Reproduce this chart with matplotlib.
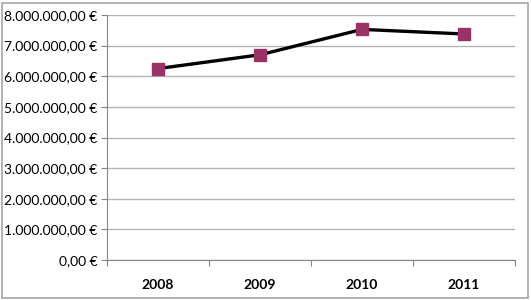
import matplotlib.pyplot as plt
from matplotlib.patches import Rectangle
from matplotlib.ticker import FuncFormatter, MultipleLocator

years = ['2008', '2009', '2010', '2011']
values = [6250000, 6700000, 7530000, 7380000]

plt.rcParams['font.family'] = ['Lato', 'DejaVu Sans']

fig = plt.figure(figsize=(5.31, 3.0), dpi=100)
ax = fig.add_axes([107 / 531, 40 / 300, 408 / 531, 245 / 300])

x = range(len(years))
ax.plot(x, values, color='black', lw=2.4, marker='s', ms=8,
        mfc='#993366', mec='#993366', zorder=3)

ax.set_xlim(-0.5, len(years) - 0.5)
ax.set_ylim(0, 8000000)
ax.yaxis.set_major_locator(MultipleLocator(1000000))


def euro(v, pos):
    s = f'{v:,.2f}'.replace(',', 'X').replace('.', ',').replace('X', '.')
    return s + ' €'


ax.yaxis.set_major_formatter(FuncFormatter(euro))
ax.set_xticks([i - 0.5 for i in range(len(years) + 1)])
ax.set_xticklabels([])
ax.set_xticks(list(x), minor=True)
ax.set_xticklabels(years, minor=True, fontweight='bold', fontsize=10)
ax.tick_params(axis='x', which='minor', length=0, pad=14)
ax.tick_params(axis='x', which='major', length=4, color='#868686')
ax.tick_params(axis='y', length=4, color='#868686', labelsize=10, pad=3)

ax.grid(axis='y', color='#b3b3b3', lw=1)
ax.set_axisbelow(True)
for side in ['top', 'right']:
    ax.spines[side].set_visible(False)
for side in ['left', 'bottom']:
    ax.spines[side].set_color('#868686')

fig.patches.append(Rectangle((2 / 531, 2 / 300), 526 / 531, 295 / 300,
                             transform=fig.transFigure, fill=False,
                             ec='#a6a6a6', lw=1.2))

fig.savefig('out.png', dpi=100)
